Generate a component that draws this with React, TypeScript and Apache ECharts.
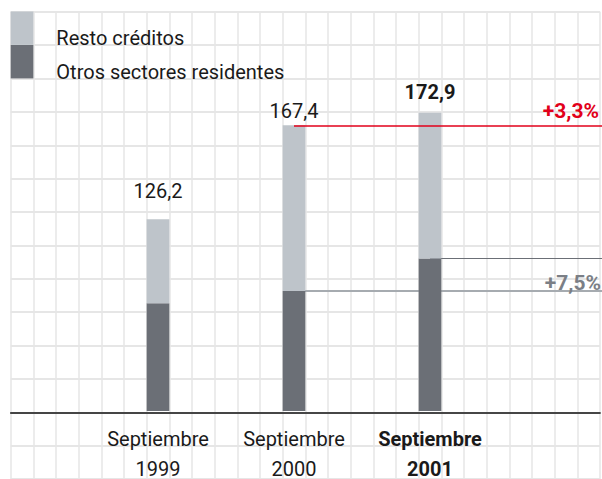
import React, { useEffect, useRef } from "react";
import * as echarts from "echarts";

// ---- Data ----
const categories = ["Septiembre 1999", "Septiembre 2000", "Septiembre 2001"];
const totals = [126.2, 167.4, 172.9];
const otrosSectores = [89.3, 94.7, 108.9];
const restoCreditos = [36.9, 72.7, 64.0];
const growthLabels = ["+3,3%", "+7,5%"];
const seriesNames = ["Resto créditos", "Otros sectores residentes"];
const highlightIndex = 2;

// ---- Styles ----
const FONT = "Roboto";
const LIGHT = "#bec4ca";
const DARK = "#6b6f76";
const RED = "#e2001a";
const TEXT = "#1a1a1a";
const GRIDLINE = "#e6e6e6";
const totalLabelDistances = [18, 4, 11];

const fmt = (v: number) => v.toFixed(1).replace(".", ",");

export default function App() {
  const ref = useRef<HTMLDivElement>(null);

  useEffect(() => {
    if (!ref.current) return;
    const chart = echarts.init(ref.current, null, { renderer: "svg" });
    chart.setOption({
      animation: false,
      backgroundColor: "#ffffff",
      textStyle: { fontFamily: FONT },
      legend: {
        data: [seriesNames[0], seriesNames[1]],
        orient: "vertical",
        left: 10.7,
        top: 11.5,
        padding: 0,
        itemGap: -3.2,
        itemWidth: 22.67,
        itemHeight: 33.4,
        icon: "rect",
        selectedMode: false,
        formatter: (name: string) => `{t|${name}}`,
        textStyle: {
          fontFamily: FONT,
          fontSize: 20,
          color: TEXT,
          rich: {
            t: {
              fontFamily: FONT,
              fontSize: 20,
              color: TEXT,
              padding: [20, 0, 0, 18],
            },
          },
        },
      },
      grid: [
        { left: 90, right: 104, top: 51.1, bottom: 67 },
        { left: 10.7, top: 11.8, width: 589.4, height: 467.6 },
      ],
      xAxis: [
        {
          type: "category",
          gridIndex: 0,
          data: categories,
          axisLine: { show: false },
          axisTick: { show: false },
          axisLabel: {
            margin: 13,
            interval: 0,
            formatter: (value: string, index: number) => {
              const parts = value.split(" ");
              const s = index === highlightIndex ? "b" : "a";
              return `{${s}|${parts[0]}}\n{${s}|${parts[1]}}`;
            },
            rich: {
              a: { fontFamily: FONT, fontSize: 20, lineHeight: 30, color: TEXT },
              b: {
                fontFamily: FONT,
                fontSize: 20,
                lineHeight: 30,
                color: TEXT,
                fontWeight: "bold",
              },
            },
          },
        },
        {
          type: "value",
          gridIndex: 1,
          min: 0,
          max: 26,
          interval: 1,
          axisLabel: { show: false },
          axisTick: { show: false },
          axisLine: {
            show: true,
            onZero: true,
            lineStyle: { color: "#111111", width: 1.5 },
          },
          splitLine: { show: true, lineStyle: { color: GRIDLINE, width: 1.5 } },
        },
      ],
      yAxis: [
        { type: "value", gridIndex: 0, min: 42, max: 200, show: false },
        {
          type: "value",
          gridIndex: 1,
          min: -2,
          max: 12,
          interval: 1,
          axisLabel: { show: false },
          axisTick: { show: false },
          axisLine: { show: false },
          splitLine: { show: true, lineStyle: { color: GRIDLINE, width: 2 } },
        },
      ],
      series: [
        {
          name: seriesNames[1],
          type: "bar",
          xAxisIndex: 0,
          yAxisIndex: 0,
          stack: "total",
          barWidth: 22.7,
          clip: true,
          itemStyle: { color: DARK },
          data: otrosSectores,
          markLine: {
            z: 1,
            silent: true,
            symbol: "none",
            data: [
              [
                { coord: [categories[1], otrosSectores[1]] },
                {
                  coord: [categories[1], otrosSectores[1]],
                  x: "100%",
                },
              ],
              [
                { coord: [categories[2], otrosSectores[2]] },
                {
                  coord: [categories[2], otrosSectores[2]],
                  x: "100%",
                  lineStyle: { color: DARK, width: 1 },
                  label: { show: false },
                },
              ],
            ],
            lineStyle: { color: "#a6abb0", width: 2, type: "solid" },
            label: {
              show: true,
              position: "insideEndTop",
              formatter: () => growthLabels[1],
              distance: [1, -3],
              fontFamily: FONT,
              fontSize: 21,
              fontWeight: "bold",
              color: "#7b7f86",
            },
          },
        },
        {
          name: seriesNames[0],
          type: "bar",
          xAxisIndex: 0,
          yAxisIndex: 0,
          stack: "total",
          barWidth: 22.7,
          clip: true,
          itemStyle: { color: LIGHT },
          data: restoCreditos.map((v, i) => ({
            value: v,
            label: {
              distance: totalLabelDistances[i],
              fontWeight: i === highlightIndex ? "bold" : "normal",
            },
          })),
          label: {
            show: true,
            position: "top",
            fontFamily: FONT,
            fontSize: 20,
            color: TEXT,
            formatter: (p: any) => fmt(totals[p.dataIndex]),
          },
          markLine: {
            silent: true,
            symbol: "none",
            data: [
              [
                { coord: [categories[1], totals[1]] },
                { coord: [categories[1], totals[1]], x: "100%" },
              ],
            ],
            lineStyle: { color: RED, width: 1.5, type: "solid" },
            label: {
              show: true,
              position: "insideEndTop",
              formatter: () => growthLabels[0],
              distance: [3, 4],
              fontFamily: FONT,
              fontSize: 21,
              fontWeight: "bold",
              color: RED,
            },
          },
        },
      ],
    });
    return () => chart.dispose();
  }, []);

  return (
    <div
      ref={ref}
      style={{ position: "fixed", left: 0, top: 0, width: 602, height: 479 }}
    />
  );
}
